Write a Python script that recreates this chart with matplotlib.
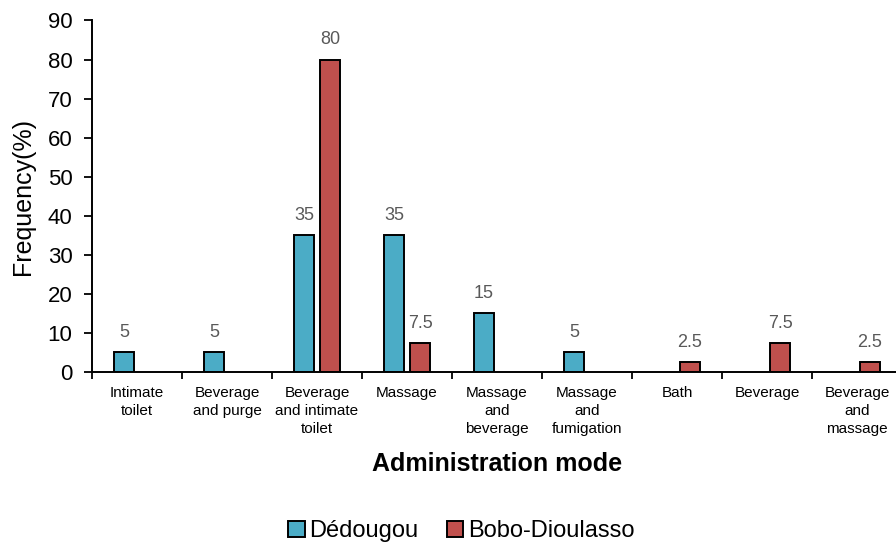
import numpy as np
import matplotlib
matplotlib.use("Agg")
import matplotlib.pyplot as plt

plt.rcParams['font.family'] = ['Liberation Sans', 'DejaVu Sans']

# data
modes = ["Intimate\ntoilet", "Beverage\nand purge", "Beverage\nand intimate\ntoilet",
         "Massage", "Massage\nand\nbeverage", "Massage\nand\nfumigation", "Bath",
         "Beverage", "Beverage\nand\nmassage"]
dedougou = [5, 5, 35, 35, 15, 5, 0, 0, 0]
bobo = [0, 0, 80, 7.5, 0, 0, 2.5, 7.5, 2.5]
series_names = ["Dédougou", "Bobo-Dioulasso"]

blue = "#4BACC6"
red = "#C0504D"

fig = plt.figure(figsize=(8.96, 5.42), dpi=100)
ax = fig.add_axes([0.1027, 0.3137, 0.904, 0.6485])

x = np.arange(len(modes))
width = 0.22
offset = 0.145

for vals, dx, color, name in [(dedougou, -offset, blue, series_names[0]),
                              (bobo, offset, red, series_names[1])]:
    vals = np.array(vals, dtype=float)
    shown = np.where(vals > 0, vals, np.nan)
    ax.bar(x + dx, shown, width=width, color=color, edgecolor="black",
           linewidth=1.4, label=name)
    for xi, v in zip(x, vals):
        if v > 0:
            ax.annotate(f"{v:g}", (xi + dx, v), xytext=(0, 8),
                        textcoords="offset points", ha="center", va="bottom",
                        fontsize=13, color="#595959")

ax.set_xlim(-0.5, len(modes) - 0.5)
ax.set_ylim(0, 90)
ax.set_yticks(range(0, 91, 10))
ax.set_xticks(x)
ax.set_xticklabels(modes, fontsize=11, multialignment="center", linespacing=1.35)
ax.set_xticks(np.arange(-0.5, len(modes), 1.0), minor=True)
ax.tick_params(axis="x", which="major", length=0, pad=10)
ax.tick_params(axis="x", which="minor", length=5, width=1.3, direction="out")
ax.tick_params(axis="y", labelsize=16, length=6, width=1.3, direction="out", pad=8)

for side in ["top", "right"]:
    ax.spines[side].set_visible(False)
for side in ["left", "bottom"]:
    ax.spines[side].set_linewidth(1.4)

ax.set_ylabel("Frequency(%)", fontsize=18, labelpad=9)
ax.set_xlabel("Administration mode", fontsize=18, fontweight="bold", labelpad=12)

fig.legend(loc="center", bbox_to_anchor=(0.515, 0.02), ncol=2, frameon=False,
           fontsize=17, handlelength=0.7, handleheight=0.7, handletextpad=0.2,
           columnspacing=1.2)

fig.savefig("out.png", dpi=100)
